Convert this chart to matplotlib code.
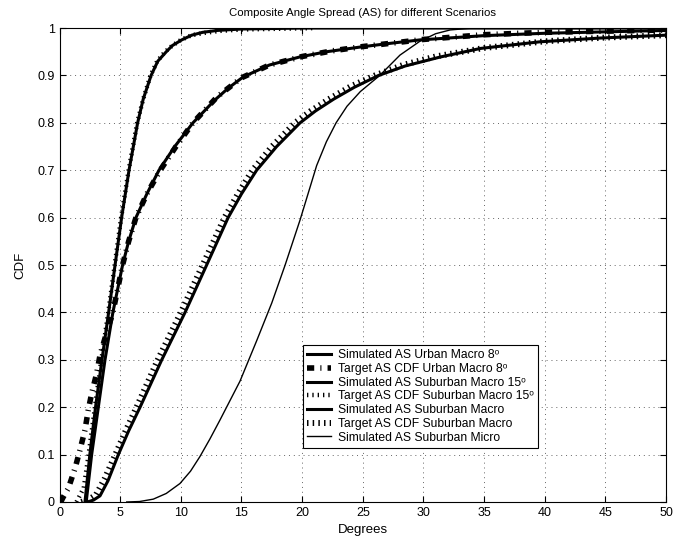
import matplotlib
matplotlib.use("Agg")
import matplotlib.pyplot as plt

plt.rcParams['font.family'] = ['Liberation Sans', 'DejaVu Sans']

# --- values (degrees, CDF) ---
# Urban Macro 8 deg (middle curve)
urban_sim_deg = [2.2, 2.65, 3.2, 3.75, 4.4, 5.2, 5.7, 6.3, 7.2, 8.2, 9.5, 11.0, 12.8, 13.9, 15.15, 17.3, 19.8, 22.0,
                 24.8, 27.0, 29.7, 35, 40, 45, 50]
urban_sim_cdf = [0, 0.1, 0.2, 0.3, 0.4, 0.5, 0.55, 0.6, 0.65, 0.7, 0.75, 0.8, 0.848, 0.873, 0.897, 0.922, 0.939, 0.95,
                 0.96, 0.967, 0.975, 0.984, 0.989, 0.992, 0.995]
urban_tgt_deg = [0.1, 0.32, 0.73, 1.28, 1.69, 2.1, 2.37, 2.65, 3.07, 3.34, 3.8, 4.4, 5.2, 5.7, 6.3, 7.2, 8.3, 9.6,
                 11.0, 13.0, 15.0, 17.3, 20.0, 22.5, 25.0, 30.0, 35.0, 40.0, 50.0]
urban_tgt_cdf = [0.0, 0.011, 0.029, 0.071, 0.11, 0.152, 0.194, 0.229, 0.272, 0.31, 0.35, 0.4, 0.5, 0.55, 0.6, 0.65,
                 0.7, 0.75, 0.8, 0.855, 0.895, 0.922, 0.94, 0.952, 0.961, 0.976, 0.986, 0.991, 0.996]

# Suburban Macro 15 deg (steep curve)
sub15_sim_deg = [2.1, 2.5, 2.97, 3.5, 4.05, 4.58, 5.12, 5.73, 6.44, 6.9, 7.55, 8.1, 8.8, 9.3, 10.07, 10.9, 11.8, 13.0,
                 15.0, 20.0, 50.0]
sub15_sim_cdf = [0, 0.1, 0.2, 0.3, 0.4, 0.5, 0.6, 0.7, 0.8, 0.85, 0.9, 0.93, 0.95, 0.963, 0.975, 0.985, 0.991, 0.995,
                 0.998, 1.0, 1.0]
sub15_tgt_deg = [1.4, 2.0, 2.4, 2.92, 3.45, 4.02, 4.55, 5.08, 5.7, 6.4, 6.9, 7.5, 8.05, 8.7, 9.3, 10.0, 10.9, 12.0,
                 13.2, 15.0, 21.0]
sub15_tgt_cdf = [0, 0.03, 0.1, 0.2, 0.3, 0.4, 0.5, 0.6, 0.7, 0.8, 0.85, 0.9, 0.93, 0.95, 0.963, 0.975, 0.985, 0.99,
                 0.994, 0.997, 1.0]

# Suburban Macro (right thick curve)
sub_sim_deg = [2.3, 2.8, 3.34, 4.0, 4.85, 5.7, 6.64, 8.43, 10.35, 12.13, 13.9, 15.0, 16.25, 17.9, 19.83, 21.1, 22.6,
               24.3, 26.3, 28.5, 31.4, 34.7, 39.6, 44.6, 50.0]
sub_sim_cdf = [0, 0.004, 0.013, 0.045, 0.1, 0.15, 0.2, 0.3, 0.4, 0.5, 0.6, 0.65, 0.7, 0.75, 0.8, 0.825, 0.85,
               0.875, 0.9, 0.92, 0.939, 0.957, 0.971, 0.979, 0.985]
sub_tgt_deg = [1.8, 2.4, 3.0, 3.7, 4.6, 5.45, 6.35, 8.1, 10.0, 11.8, 13.6, 14.7, 15.9, 17.5, 19.4, 20.7, 22.2, 24.0,
               26.0, 28.3, 31.0, 35.0, 40.0, 45.0, 50.0]
sub_tgt_cdf = [0, 0.005, 0.015, 0.048, 0.1, 0.15, 0.2, 0.3, 0.4, 0.5, 0.6, 0.65, 0.7, 0.75, 0.8, 0.825, 0.85, 0.877,
               0.9, 0.922, 0.94, 0.958, 0.972, 0.98, 0.985]

# Suburban Micro (thin curve)
micro_deg = [5.54, 6.6, 7.73, 8.8, 9.93, 10.8, 11.58, 12.4, 13.23, 14.88, 16.25, 17.5, 18.6, 19.83, 21.2, 22.0,
             22.8, 23.7, 24.8, 26.4, 28.07, 29.7, 31.0, 32.2, 34.0, 50.0]
micro_cdf = [0, 0.001, 0.006, 0.018, 0.039, 0.065, 0.096, 0.133, 0.173, 0.255, 0.34, 0.42, 0.5, 0.595, 0.71, 0.76,
             0.8, 0.835, 0.866, 0.9, 0.943, 0.972, 0.988, 0.996, 1.0, 1.0]

labels = [
    'Simulated AS Urban Macro 8\u1d52',
    'Target AS CDF Urban Macro 8\u1d52',
    'Simulated AS Suburban Macro 15\u1d52',
    'Target AS CDF Suburban Macro 15\u1d52',
    'Simulated AS Suburban Macro',
    'Target AS CDF Suburban Macro',
    'Simulated AS Suburban Micro',
]

x_ticks = list(range(0, 51, 5))
y_ticks = [0, 0.1, 0.2, 0.3, 0.4, 0.5, 0.6, 0.7, 0.8, 0.9, 1]
y_tick_labels = ['0', '0.1', '0.2', '0.3', '0.4', '0.5', '0.6', '0.7', '0.8', '0.9', '1']

fig = plt.figure(figsize=(6.84, 5.46), dpi=100)
ax = fig.add_axes([0.087, 0.0806, 0.8867, 0.868])

ax.plot(urban_sim_deg, urban_sim_cdf, color='k', lw=2.2, label=labels[0])
ax.plot(urban_tgt_deg, urban_tgt_cdf, color='k', lw=4.0,
        ls=(0, (1.3, 1.1, 0.2, 1.1)), dash_capstyle='butt', label=labels[1])
ax.plot(sub15_sim_deg, sub15_sim_cdf, color='k', lw=2.2, label=labels[2])
ax.plot(sub15_tgt_deg, sub15_tgt_cdf, color='k', lw=3.2,
        ls=(0, (0.3, 0.9)), dash_capstyle='butt', label=labels[3])
ax.plot(sub_sim_deg, sub_sim_cdf, color='k', lw=2.2, label=labels[4])
ax.plot(sub_tgt_deg, sub_tgt_cdf, color='k', lw=4.3,
        ls=(0, (0.25, 0.7)), dash_capstyle='butt', label=labels[5])
ax.plot(micro_deg, micro_cdf, color='k', lw=1.0, label=labels[6])

ax.set_xlim(0, 50)
ax.set_ylim(0, 1)
ax.set_xticks(x_ticks)
ax.set_yticks(y_ticks)
ax.set_yticklabels(y_tick_labels)
ax.tick_params(direction='in', top=True, right=True, length=4, width=0.8, labelsize=9)
for s in ax.spines.values():
    s.set_linewidth(0.8)
ax.grid(True, color='0.4', linestyle=(0, (1, 4)), linewidth=0.7)

ax.set_title('Composite Angle Spread (AS) for different Scenarios', fontsize=8.2, pad=9)
ax.set_xlabel('Degrees', fontsize=9.5, labelpad=4)
ax.set_ylabel('CDF', fontsize=9.5, labelpad=8)

leg = ax.legend(loc='upper left', bbox_to_anchor=(0.401, 0.331), borderaxespad=0,
                fontsize=8.7, frameon=True, fancybox=False, framealpha=1,
                edgecolor='k', labelspacing=0.14, handlelength=2.0,
                handletextpad=0.6, borderpad=0.35)
leg.get_frame().set_linewidth(0.8)

fig.savefig('out.png', dpi=100)
